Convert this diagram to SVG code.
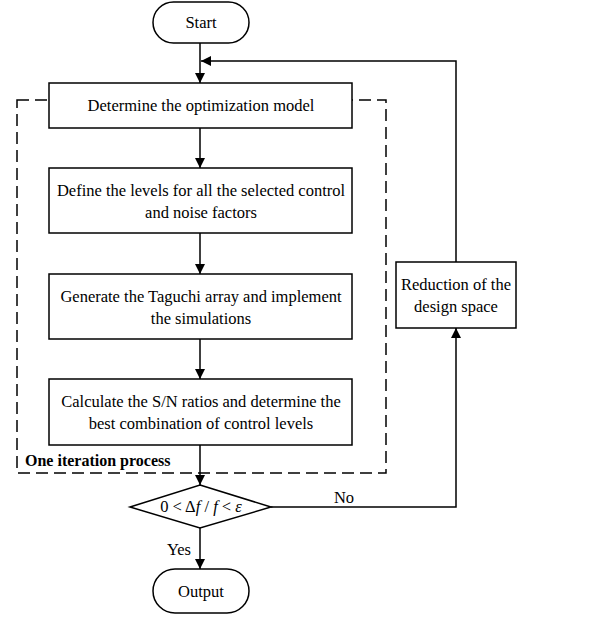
<svg xmlns="http://www.w3.org/2000/svg" width="597" height="618" viewBox="0 0 597 618">
<style>
.n{fill:#fff;stroke:#000;stroke-width:1.5}
.t{font-family:"Liberation Serif","Times New Roman",serif;font-size:16.5px;fill:#000;text-anchor:middle}
.c{fill:none;stroke:#000;stroke-width:1.5}
.d{fill:none;stroke:#000;stroke-width:1.5;stroke-dasharray:12,6}
</style>
<defs>
<marker id="a" viewBox="0 0 10 10" refX="10" refY="5" markerWidth="10" markerHeight="10" markerUnits="userSpaceOnUse" orient="auto">
<path d="M0,0 L10,5 L0,10 z" fill="#000"/>
</marker>
</defs>
<g id="frame">
<rect class="d" x="17" y="100" width="369" height="373"/>
<text x="25" y="466" style="font-family:'Liberation Serif','Times New Roman',serif;font-size:16px;font-weight:bold">One iteration process</text>
</g>
<g id="connectors">
<line class="c" x1="200" y1="43" x2="200" y2="83" marker-end="url(#a)"/>
<line class="c" x1="200" y1="128" x2="200" y2="168" marker-end="url(#a)"/>
<line class="c" x1="200" y1="233" x2="200" y2="274" marker-end="url(#a)"/>
<line class="c" x1="200" y1="339" x2="200" y2="379" marker-end="url(#a)"/>
<line class="c" x1="200" y1="445" x2="200" y2="485" marker-end="url(#a)"/>
<line class="c" x1="200" y1="528" x2="200" y2="569" marker-end="url(#a)"/>
<polyline class="c" points="271,507 456,507 456,328" marker-end="url(#a)"/>
<polyline class="c" points="456,262 456,61 201,61" marker-end="url(#a)"/>
<text class="t" x="344" y="503">No</text>
<text class="t" x="179" y="555">Yes</text>
</g>
<g id="start">
<rect class="n" x="153" y="2" width="96" height="41" rx="20.5"/>
<text class="t" x="201" y="28">Start</text>
</g>
<g id="model">
<rect class="n" x="49" y="83" width="303" height="45"/>
<text class="t" x="201" y="111">Determine the optimization model</text>
</g>
<g id="levels">
<rect class="n" x="49" y="168" width="303" height="65"/>
<text class="t" x="201" y="196">Define the levels for all the selected  control</text>
<text class="t" x="201" y="218">and noise factors</text>
</g>
<g id="taguchi">
<rect class="n" x="49" y="274" width="303" height="65"/>
<text class="t" x="201" y="302">Generate the Taguchi array and implement</text>
<text class="t" x="201" y="324">the simulations</text>
</g>
<g id="sn">
<rect class="n" x="49" y="379" width="303" height="66"/>
<text class="t" x="201" y="407">Calculate the S/N ratios and determine the</text>
<text class="t" x="201" y="429">best combination of control levels</text>
</g>
<g id="decision">
<polygon class="n" points="200,485 271,507 200,528 130,507"/>
<text class="t" x="201" y="512">0 &lt; Δ<tspan font-style="italic">f</tspan> / <tspan font-style="italic">f</tspan> &lt; <tspan font-style="italic">ε</tspan></text>
</g>
<g id="reduction">
<rect class="n" x="396" y="262" width="120" height="66"/>
<text class="t" x="456" y="290">Reduction of the</text>
<text class="t" x="456" y="312">design space</text>
</g>
<g id="output">
<rect class="n" x="153" y="569" width="96" height="44" rx="22"/>
<text class="t" x="201" y="597">Output</text>
</g>
</svg>
